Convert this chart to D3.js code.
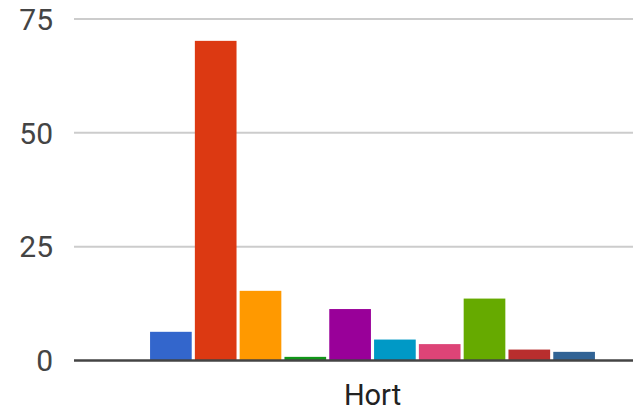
<!DOCTYPE html>
<html><head><meta charset="utf-8">
<script src="https://cdn.jsdelivr.net/npm/d3@7"></script>
<style>body{margin:0;background:#fff}svg{display:block}</style>
</head><body>
<script>
const categories = ["Hort"];
const seriesNames = ["S1","S2","S3","S4","S5","S6","S7","S8","S9","S10"];
const seriesValues = [6.3, 70.2, 15.3, 0.8, 11.3, 4.6, 3.6, 13.6, 2.4, 1.9];
const colors = ["#3366cc","#dc3912","#ff9900","#109618","#990099","#0099c6","#dd4477","#66aa00","#b82e2e","#316395"];
const yTicks = [0, 25, 50, 75];

const W = 633, H = 412;
const svg = d3.select("body").append("svg").attr("width", W).attr("height", H);
const left = 74, right = 671;
const y = d3.scaleLinear().domain([0, 75]).range([360.5, 19]);
const x0 = d3.scaleBand().domain(categories).range([left, right]).padding(0.146);
const x1 = d3.scaleBand().domain(seriesNames).range([0, x0.bandwidth()]).paddingInner(0.07).paddingOuter(0);

svg.append("g").selectAll("line").data(yTicks.filter(d => d > 0)).join("line")
  .attr("x1", left).attr("x2", W).attr("y1", d => y(d)).attr("y2", d => y(d))
  .attr("stroke", "#cccccc").attr("stroke-width", 2);

svg.append("g").selectAll("text").data(yTicks).join("text")
  .attr("x", 53).attr("y", d => y(d)).attr("dy", "0.36em")
  .attr("text-anchor", "end").attr("font-family", "Roboto").attr("font-size", 30)
  .attr("fill", "#444").text(d => d);

const g = svg.append("g").selectAll("g").data(categories).join("g")
  .attr("transform", d => `translate(${x0(d)},0)`);
g.selectAll("rect").data(seriesValues.map((v, i) => ({name: seriesNames[i], v, c: colors[i]}))).join("rect")
  .attr("x", d => x1(d.name)).attr("width", x1.bandwidth())
  .attr("y", d => y(d.v)).attr("height", d => y(0) - y(d.v))
  .attr("fill", d => d.c);

svg.append("line").attr("x1", left).attr("x2", W).attr("y1", y(0)).attr("y2", y(0))
  .attr("stroke", "#444").attr("stroke-width", 2.5);

svg.append("g").selectAll("text").data(categories).join("text")
  .attr("x", d => x0(d) + x0.bandwidth() / 2).attr("y", 405)
  .attr("text-anchor", "middle").attr("font-family", "Roboto").attr("font-size", 29)
  .attr("fill", "#222").text(d => d);
</script>
</body></html>
